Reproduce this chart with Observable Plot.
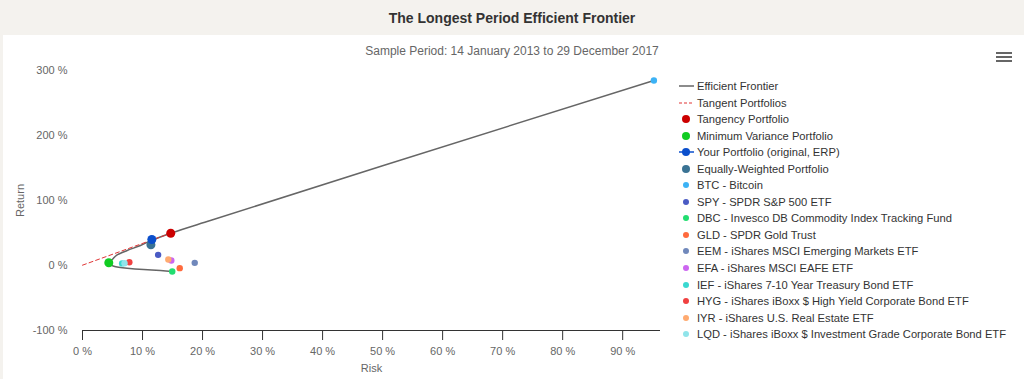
<!DOCTYPE html>
<html><head><meta charset="utf-8">
<script src="https://cdn.jsdelivr.net/npm/d3@7"></script>
<script src="https://cdn.jsdelivr.net/npm/@observablehq/plot@0.6"></script>
<style>
body{margin:0;width:1024px;height:379px;overflow:hidden;background:#f4f2ee;font-family:"Liberation Sans",Arial,sans-serif;position:relative;}
#title{position:absolute;left:0;top:0;width:1024px;height:35px;line-height:37px;text-align:center;font-weight:bold;font-size:14px;color:#333;}
#panel{position:absolute;left:3px;top:35px;width:1021px;height:344px;background:#fff;}
#subtitle{position:absolute;left:0;top:44px;width:1024px;text-align:center;font-size:12px;color:#666;}
#chart{position:absolute;left:0;top:35px;}
#legend{position:absolute;left:678px;top:78px;font-size:11.2px;color:#333;}
.row{position:relative;height:16.55px;line-height:16px;white-space:nowrap;padding-left:19px;}
.sym{position:absolute;left:0;top:0;width:16px;height:16px;}
#menu{position:absolute;left:996px;top:52px;width:16px;}
#menu div{height:2px;background:#666;margin-bottom:2.2px;}
</style></head>
<body>
<div id="title">The Longest Period Efficient Frontier</div>
<div id="panel"></div>
<div id="subtitle">Sample Period: 14 January 2013 to 29 December 2017</div>
<div id="chart"></div>
<div id="legend"></div>
<div id="menu"><div></div><div></div><div></div></div>
<script>
// ---- data (risk %, return %) ----
const xTicks = [0,10,20,30,40,50,60,70,80,90];
const yTicks = [-100,0,100,200,300];

const frontierRisk   = [14.95, 13.0, 10.2, 7.45, 5.22, 4.38, 4.95, 5.78, 7.45, 9.67, 11.45, 14.7, 21.3, 50.0, 95.2];
const frontierReturn = [-9.2, -7.7, -6.2, -4.2, -1.1, 4.15, 9.2, 16.5, 23.1, 30.8, 38.5, 49.7, 69.2, 153.5, 284.6];

const tangentRisk   = [0, 14.7];
const tangentReturn = [0.5, 49.7];

const portfolioNames  = ["Tangency Portfolio","Minimum Variance Portfolio","Your Portfolio (original, ERP)","Equally-Weighted Portfolio"];
const portfolioRisk   = [14.7, 4.38, 11.55, 11.4];
const portfolioReturn = [49.7, 4.15, 40.0, 31.8];

const assetNames  = ["BTC - Bitcoin","SPY - SPDR S&P 500 ETF","DBC - Invesco DB Commodity Index Tracking Fund","GLD - SPDR Gold Trust","EEM - iShares MSCI Emerging Markets ETF","EFA - iShares MSCI EAFE ETF","IEF - iShares 7-10 Year Treasury Bond ETF","HYG - iShares iBoxx $ High Yield Corporate Bond ETF","IYR - iShares U.S. Real Estate ETF","LQD - iShares iBoxx $ Investment Grade Corporate Bond ETF"];
const assetRisk   = [95.2, 12.6, 14.95, 16.2, 18.7, 14.8, 6.6, 7.8, 14.3, 7.0];
const assetReturn = [284.6, 16.4, -9.2, -4.1, 4.1, 7.7, 3.2, 5.0, 9.2, 3.5];

// ---- styles ----
const portfolioColors = ["#cc0000","#11cc22","#0b4fcc","#3a7394"];
const assetColors = ["#3cb2f5","#4a5bc4","#22dd70","#ff6a3d","#7088bb","#cc66f0","#3ad8d0","#f04040","#ffaa70","#90e4ea"];
const frontierColor = "#666666", tangentColor = "#e03535";

const frontier = frontierRisk.map((r,i)=>({risk:r, ret:frontierReturn[i]}));
const tangent = tangentRisk.map((r,i)=>({risk:r, ret:tangentReturn[i]}));
const portfolios = portfolioNames.map((n,i)=>({name:n, risk:portfolioRisk[i], ret:portfolioReturn[i], color:portfolioColors[i]}));
const assets = assetNames.map((n,i)=>({name:n, risk:assetRisk[i], ret:assetReturn[i], color:assetColors[i]}));
const portfolioOrder = [3,2,1,0].map(i=>portfolios[i]);

const pct = d => d + " %";
const chart = Plot.plot({
  width: 670, height: 344,
  marginLeft: 82, marginRight: 10, marginTop: 35, marginBottom: 49,
  style: {background:"transparent", fontFamily:"Liberation Sans, Arial, sans-serif", fontSize:"11px", color:"#666", overflow:"visible"},
  x: {domain:[0,96.3]},
  y: {domain:[-100,300]},
  marks: [
    Plot.ruleY([-100], {stroke:"#333", strokeWidth:1}),
    Plot.axisX({ticks:xTicks, tickFormat:pct, tickSize:10, tickPadding:7, stroke:"#333", fill:"#666", fontSize:11,
      label:"Risk", labelAnchor:"center", labelArrow:"none", labelOffset:41}),
    Plot.axisY({ticks:yTicks, tickFormat:pct, tickSize:0, tickPadding:15, fill:"#666", fontSize:11,
      label:"Return", labelAnchor:"center", labelArrow:"none", labelOffset:66}),
    Plot.line(frontier, {x:"risk", y:"ret", stroke:frontierColor, strokeWidth:1.5, curve:"monotone-y"}),
    Plot.line(tangent, {x:"risk", y:"ret", stroke:tangentColor, strokeWidth:1, strokeDasharray:"4,3"}),
    Plot.dot(assets, {x:"risk", y:"ret", fill:d=>d.color, r:3.2}),
    Plot.dot(portfolioOrder, {x:"risk", y:"ret", fill:d=>d.color, r:4.5})
  ]
});
document.getElementById("chart").appendChild(chart);

// ---- legend ----
const legendItems = [
  {name:"Efficient Frontier", type:"line", color:frontierColor},
  {name:"Tangent Portfolios", type:"dash", color:tangentColor},
  {name:portfolioNames[0], type:"big", color:portfolioColors[0]},
  {name:portfolioNames[1], type:"big", color:portfolioColors[1]},
  {name:portfolioNames[2], type:"linedot", color:portfolioColors[2]},
  {name:portfolioNames[3], type:"big", color:portfolioColors[3]},
  ...assetNames.map((n,i)=>({name:n, type:"small", color:assetColors[i]}))
];
const lg = d3.select("#legend");
legendItems.forEach(it=>{
  const row = lg.append("div").attr("class","row");
  const s = row.append("svg").attr("class","sym").attr("width",16).attr("height",16);
  if (it.type==="line"||it.type==="dash"||it.type==="linedot")
    s.append("line").attr("x1",1).attr("x2",16).attr("y1",8).attr("y2",8).attr("stroke",it.color)
     .attr("stroke-width", it.type==="dash"?1:1.5).attr("stroke-dasharray", it.type==="dash"?"3,2":null);
  if (it.type==="big"||it.type==="linedot") s.append("circle").attr("cx",8).attr("cy",8).attr("r",4).attr("fill",it.color);
  if (it.type==="small") s.append("circle").attr("cx",8).attr("cy",8).attr("r",3).attr("fill",it.color);
  row.append("span").text(it.name);
});
</script>
</body></html>
